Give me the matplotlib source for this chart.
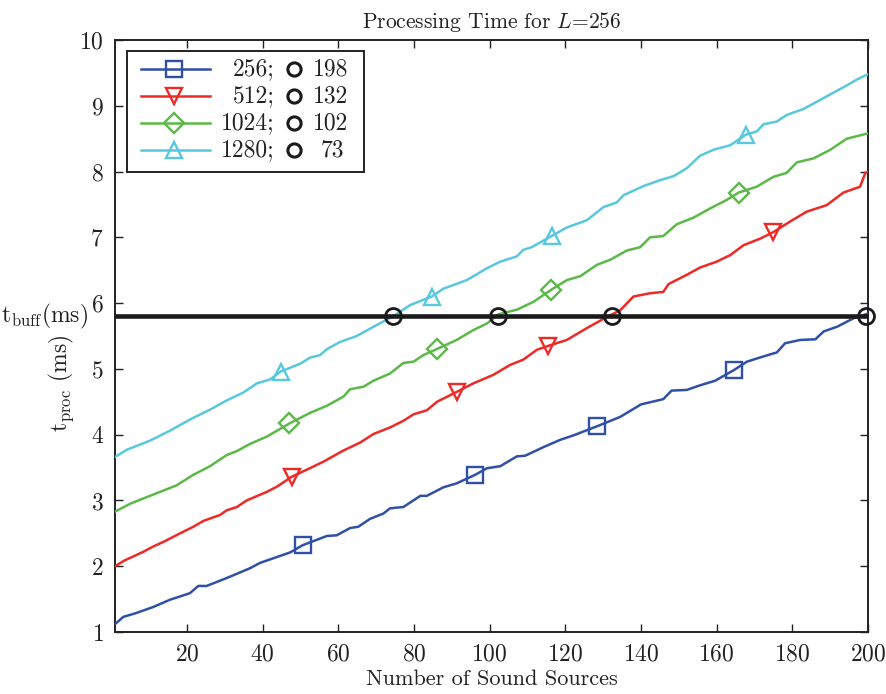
import matplotlib
matplotlib.use("Agg")
import matplotlib.pyplot as plt
from matplotlib.patches import Rectangle
from matplotlib.lines import Line2D
import numpy as np

plt.rcParams['font.family'] = ['cmr10', 'DejaVu Serif']
plt.rcParams['mathtext.fontset'] = 'cm'
plt.rcParams['axes.formatter.use_mathtext'] = True
plt.rcParams['axes.unicode_minus'] = False

# ---------------- data ----------------
labels = ["256;", "512;", "1024;", "1280;"]
limits = ["198", "132", "102", "73"]
colors = ["#3050A8", "#EE2A26", "#5BB947", "#58C8DC"]
markers = ["s", "v", "D", "^"]

blue_x = [1, 3.2, 6.7, 11.1, 15.5, 20.8, 23, 25.2, 30.5, 36.7, 39.3, 47.3, 50.6, 57, 59.6, 63.1,
          65.3, 68.4, 71.9, 73.7, 77.2, 81.7, 83.4, 87.8, 91.3, 96.2, 99.3, 102.8, 107.2, 109.4,
          114.2, 118.6, 122.2, 128.5, 134.5, 140, 145.9, 148.1, 152.1, 155.6, 159.6, 164.5, 168,
          172.4, 175.9, 178.1, 182.1, 186.1, 188.3, 191.8, 196.2, 200]
blue_y = [1.12, 1.23, 1.29, 1.38, 1.49, 1.59, 1.70, 1.70, 1.82, 1.97, 2.05, 2.21, 2.32, 2.46, 2.47, 2.58,
          2.60, 2.72, 2.80, 2.88, 2.90, 3.07, 3.07, 3.20, 3.26, 3.39, 3.49, 3.52, 3.67, 3.68,
          3.81, 3.92, 3.99, 4.13, 4.27, 4.46, 4.54, 4.67, 4.68, 4.75, 4.82, 4.98, 5.11,
          5.19, 5.25, 5.39, 5.44, 5.45, 5.57, 5.64, 5.77, 5.84]

red_x = [1, 3.6, 8.5, 11.1, 13.8, 18.2, 21.7, 24.4, 28.8, 30.5, 33.2, 35.8, 41.1, 43.8, 47.7, 52.5,
         56.1, 61.4, 65.8, 69.3, 73.7, 77.2, 79.9, 83.4, 86.1, 91.3, 95.7, 101, 105.4, 108.9, 112.5,
         115.5, 120.4, 125.7, 131, 134.5, 138, 142.4, 145.9, 147.3, 152.1, 155.6, 160, 163.6, 167.1,
         171.5, 175, 179.4, 183.8, 189.1, 193.5, 197.9, 199.3, 200]
red_y = [2.00, 2.09, 2.22, 2.30, 2.37, 2.50, 2.60, 2.69, 2.78, 2.85, 2.90, 3.00, 3.13, 3.21, 3.36, 3.49,
         3.59, 3.76, 3.88, 4.01, 4.11, 4.21, 4.31, 4.37, 4.50, 4.65, 4.78, 4.91, 5.06, 5.14, 5.29,
         5.35, 5.44, 5.62, 5.79, 5.89, 6.10, 6.15, 6.17, 6.29, 6.43, 6.54, 6.63, 6.73, 6.88,
         6.98, 7.08, 7.24, 7.39, 7.49, 7.68, 7.77, 7.98, 8.00]

green_x = [1, 5, 8.5, 12.9, 17.3, 21.7, 26.1, 30.5, 33.2, 36.7, 41.1, 47.1, 52.5, 57, 61.4, 63.1,
           66.7, 69.3, 73.7, 77.2, 79.9, 82.5, 86, 91.3, 95.7, 99.3, 102.3, 107.2, 111.6, 116.2,
           120.4, 124, 128.3, 131.9, 136.3, 139.8, 142.4, 145.9, 149.5, 153.9, 158.3, 162.7, 165.8,
           170.6, 175, 178.5, 181.2, 185.6, 190, 194.4, 200]
green_y = [2.83, 2.95, 3.03, 3.13, 3.23, 3.39, 3.52, 3.69, 3.75, 3.86, 3.97, 4.17, 4.33, 4.44, 4.58, 4.69,
           4.73, 4.82, 4.93, 5.09, 5.11, 5.21, 5.30, 5.44, 5.59, 5.69, 5.83, 5.90, 6.02, 6.20,
           6.35, 6.41, 6.58, 6.66, 6.80, 6.85, 7.00, 7.02, 7.20, 7.30, 7.44, 7.57, 7.68,
           7.77, 7.92, 7.98, 8.14, 8.20, 8.33, 8.50, 8.58]

cyan_x = [1, 4.1, 10.3, 15.5, 20.8, 26.1, 30.5, 34.9, 38.5, 42, 44.8, 50, 52.5, 55.2, 57, 60.5, 64.9,
          69.3, 74.5, 79, 84.7, 87.8, 94, 99.3, 102.8, 107.2, 108.9, 111.1, 116.4, 120.4, 125.7,
          130.1, 133.6, 135.4, 140.7, 145.1, 148.6, 152.1, 155.6, 159.1, 163.6, 167.7, 170.6, 172.4,
          175.9, 178.5, 182.9, 187.4, 190.9, 194.4, 197.1, 200]
cyan_y = [3.66, 3.77, 3.91, 4.06, 4.23, 4.38, 4.52, 4.64, 4.78, 4.84, 4.96, 5.08, 5.17, 5.21, 5.30, 5.41, 5.50,
          5.64, 5.80, 5.97, 6.10, 6.22, 6.35, 6.53, 6.63, 6.71, 6.81, 6.85, 7.02, 7.15, 7.26,
          7.46, 7.53, 7.64, 7.78, 7.87, 7.93, 8.05, 8.24, 8.33, 8.40, 8.56, 8.61, 8.72,
          8.76, 8.86, 8.95, 9.09, 9.20, 9.31, 9.40, 9.48]

series_x = [blue_x, red_x, green_x, cyan_x]
series_y = [blue_y, red_y, green_y, cyan_y]

# marker positions (x) on each curve
marker_x = [[50.6, 96.2, 128.5, 164.5],
            [47.7, 91.3, 115.5, 175.0],
            [47.1, 86.0, 116.2, 165.8],
            [44.8, 84.7, 116.4, 167.7]]

t_buff = 5.8
cross_x = [74.5, 102.2, 132.3, 199.5]

x_ticks = [20, 40, 60, 80, 100, 120, 140, 160, 180, 200]
y_ticks = [1, 2, 3, 4, 5, 6, 7, 8, 9, 10]

FS = 17
TXT = '#222222'

# ---------------- figure ----------------
fig = plt.figure(figsize=(8.86, 6.94), dpi=100)
ax = fig.add_axes([115 / 886, 62 / 694, 753 / 886, 592 / 694])

for xs, ys, c, m, mx in zip(series_x, series_y, colors, markers, marker_x):
    ax.plot(xs, ys, color=c, lw=1.8, zorder=3)
    my = np.interp(mx, xs, ys)
    ax.plot(mx, my, linestyle='none', marker=m, markersize=11 if m != 'D' else 10,
            markerfacecolor='none', markeredgecolor=c, markeredgewidth=1.7, zorder=4)

ax.plot([1, 200], [t_buff, t_buff], color='#1a1a1a', lw=3.3, zorder=5, solid_capstyle='butt')
ax.plot(cross_x, [t_buff] * len(cross_x), linestyle='none', marker='o', markersize=11.5,
        markerfacecolor='none', markeredgecolor='#1a1a1a', markeredgewidth=2.0, zorder=6,
        clip_on=False)

ax.set_xlim(1, 200)
ax.set_ylim(1, 10)
ax.set_xticks(x_ticks)
ax.set_yticks(y_ticks)
ax.tick_params(direction='in', length=6, width=1.0, top=True, right=True,
               labelsize=FS, pad=8, colors=TXT)
for s in ax.spines.values():
    s.set_linewidth(1.4)
    s.set_color(TXT)

ax.set_title(r'Processing Time for $L$=256', fontsize=15.5, pad=9, color=TXT)
ax.set_xlabel('Number of Sound Sources', fontsize=16, labelpad=3, color=TXT)
ax.set_ylabel(r'$\mathrm{t}_{\mathrm{proc}}$ (ms)', fontsize=FS, color=TXT)
ax.yaxis.set_label_coords(-0.052, 0.42)

# t_buff label left of the axis
ax.text(-0.036, t_buff, r'$\mathrm{t}_{\mathrm{buff}}$(ms)', transform=ax.get_yaxis_transform(),
        ha='right', va='center', fontsize=FS, color=TXT)

# ---------------- manual legend ----------------
def fx(px):
    return (px - 115) / 753

def fy(py):
    return (632 - py) / 592

ax.add_patch(Rectangle((fx(127), fy(172)), fx(364) - fx(127), fy(51) - fy(172),
                       transform=ax.transAxes, facecolor='white', edgecolor=TXT,
                       lw=1.4, zorder=10))
rows = [69, 96, 123, 150]
for i, (lab, lim, c, m) in enumerate(zip(labels, limits, colors, markers)):
    yy = fy(rows[i])
    ax.add_line(Line2D([fx(141), fx(210)], [yy, yy], transform=ax.transAxes, color=c,
                       lw=1.8, zorder=11))
    ax.add_line(Line2D([fx(174)], [yy], transform=ax.transAxes, linestyle='none', marker=m,
                       markersize=11 if m != 'D' else 10, markerfacecolor='none',
                       markeredgecolor=c, markeredgewidth=1.7, zorder=12))
    ax.text(fx(275), yy, lab, transform=ax.transAxes, ha='right', va='center',
            fontsize=FS, zorder=12, color=TXT)
    ax.add_line(Line2D([fx(294)], [yy], transform=ax.transAxes, linestyle='none', marker='o',
                       markersize=9.5, markerfacecolor='none', markeredgecolor='#1a1a1a',
                       markeredgewidth=2.2, zorder=12))
    ax.text(fx(348) if lim != "73" else fx(344), yy, lim, transform=ax.transAxes,
            ha='right', va='center', fontsize=FS, zorder=12, color=TXT)

fig.savefig('out.png', dpi=100)
